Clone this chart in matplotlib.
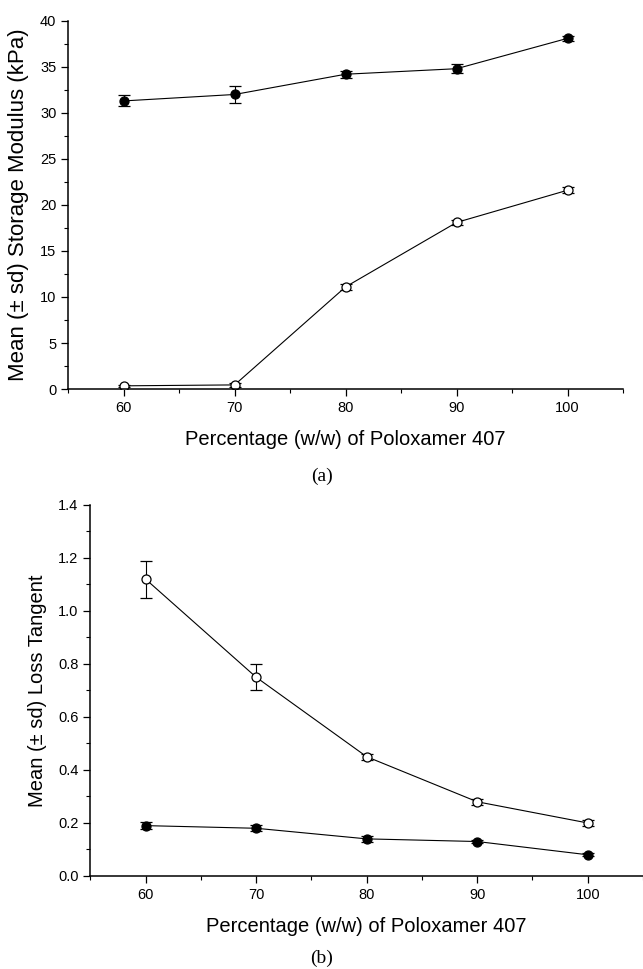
import matplotlib
matplotlib.use("Agg")
import matplotlib.pyplot as plt
from matplotlib.ticker import MultipleLocator, FormatStrFormatter

plt.rcParams["font.family"] = ["Liberation Sans", "DejaVu Sans"]

# DATA
pct = [60, 70, 80, 90, 100]

# (a) storage modulus, kPa
g_filled = [31.3, 32.0, 34.2, 34.8, 38.1]
g_filled_sd = [0.6, 0.9, 0.4, 0.5, 0.3]
g_open = [0.35, 0.45, 11.1, 18.1, 21.6]
g_open_sd = [0.1, 0.2, 0.3, 0.3, 0.3]

# (b) loss tangent
tan_open = [1.12, 0.75, 0.45, 0.28, 0.20]
tan_open_sd = [0.07, 0.05, 0.012, 0.012, 0.012]
tan_filled = [0.19, 0.18, 0.14, 0.13, 0.08]
tan_filled_sd = [0.012, 0.012, 0.012, 0.006, 0.005]

xlabel = "Percentage (w/w) of Poloxamer 407"

fig = plt.figure(figsize=(6.43, 9.69), dpi=100)
ax1 = fig.add_axes([0.106, 0.5985, 0.863, 0.3800])
ax2 = fig.add_axes([0.1405, 0.0960, 0.8595, 0.3829])


def draw_series(ax, y, sd, filled):
    ax.errorbar(pct, y, yerr=sd, color="black", lw=0.8, elinewidth=0.8,
                capsize=4, capthick=0.8, marker="o", ms=6.5,
                mfc="black" if filled else "white", mec="black", mew=0.9)


def style(ax):
    ax.spines["top"].set_visible(False)
    ax.spines["right"].set_visible(False)
    ax.spines["left"].set_linewidth(1.1)
    ax.spines["bottom"].set_linewidth(1.1)
    ax.set_xlim(55, 105)
    ax.xaxis.set_major_locator(MultipleLocator(10))
    ax.xaxis.set_minor_locator(MultipleLocator(5))
    ax.tick_params(which="major", length=5, width=0.9, labelsize=10.5)
    ax.tick_params(which="minor", length=3, width=0.8)
    ax.set_xlabel(xlabel, fontsize=14.5, labelpad=11)


# (a)
draw_series(ax1, g_filled, g_filled_sd, True)
draw_series(ax1, g_open, g_open_sd, False)
style(ax1)
ax1.set_ylim(0, 40)
ax1.yaxis.set_major_locator(MultipleLocator(5))
ax1.yaxis.set_minor_locator(MultipleLocator(2.5))
ax1.set_ylabel("Mean (\u00b1 sd) Storage Modulus (kPa)", fontsize=16, labelpad=8)
fig.text(0.5, 1 - 476 / 969, "(a)", ha="center", va="center",
         fontsize=14, family="Liberation Serif")

# (b)
draw_series(ax2, tan_open, tan_open_sd, False)
draw_series(ax2, tan_filled, tan_filled_sd, True)
style(ax2)
ax2.set_ylim(0, 1.4)
ax2.yaxis.set_major_locator(MultipleLocator(0.2))
ax2.yaxis.set_minor_locator(MultipleLocator(0.1))
ax2.yaxis.set_major_formatter(FormatStrFormatter("%.1f"))
ax2.set_ylabel("Mean (\u00b1 sd) Loss Tangent", fontsize=14.5, labelpad=8)
fig.text(0.5, 1 - 958 / 969, "(b)", ha="center", va="center",
         fontsize=14, family="Liberation Serif")

fig.savefig("out.png", dpi=100)
